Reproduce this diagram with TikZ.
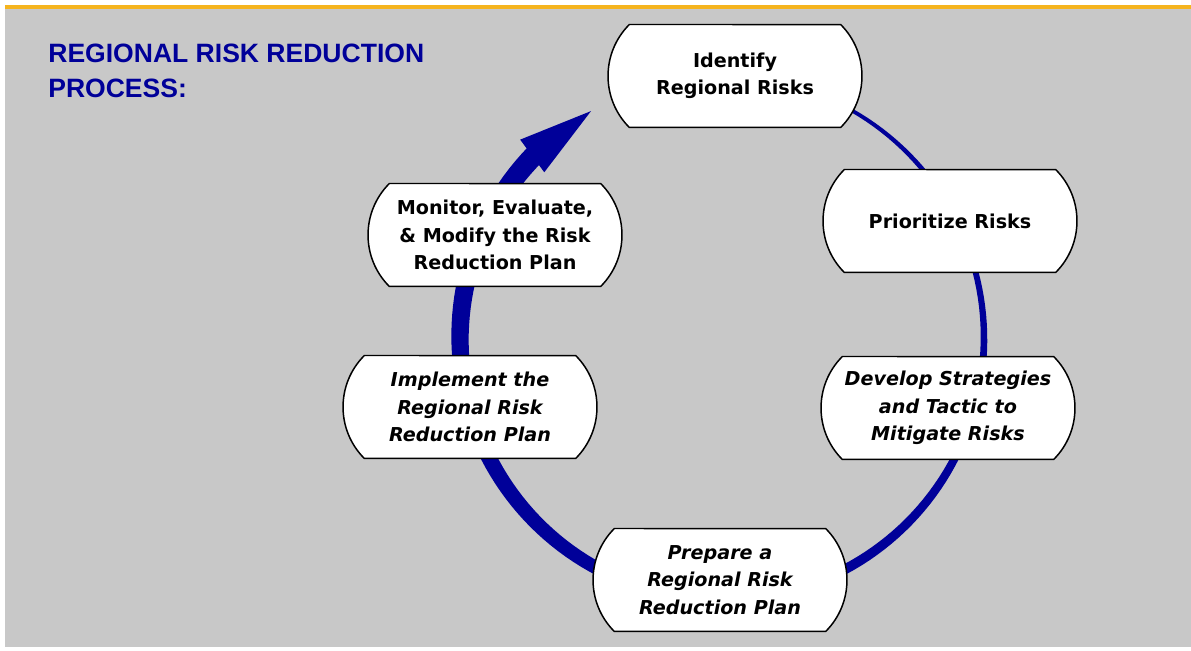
\documentclass[tikz,border=0pt]{standalone}
\usepackage{fontspec}
\setmainfont{DejaVu Sans}
\newfontfamily\titlefont{Liberation Sans}
\usepackage{tikz}
\usetikzlibrary{shapes.misc}
\definecolor{navy}{RGB}{0,0,153}
\definecolor{panel}{RGB}{200,200,200}
\definecolor{amber}{RGB}{245,180,30}

\begin{document}
\begin{tikzpicture}[x=0.02cm,y=-0.02cm,
    declare function={bw(\a)=2.5+18*(0.7*((90-\a)/314)+0.3*((90-\a)/314)^2);},
    stepbox/.style={draw=black,line width=0.85pt,fill=white,rounded rectangle,
      rounded rectangle arc length=90,minimum width=5.08cm,minimum height=2.06cm,
      inner sep=0pt,align=center,font=\fontsize{10.9}{15.6}\selectfont\bfseries},
    slanted/.style={font=\fontsize{10.9}{15.6}\selectfont\bfseries\itshape},
    headline/.style={anchor=base west,inner sep=0pt,text=navy,
      font=\titlefont\fontsize{15.1}{19.8}\selectfont\bfseries}]

%the sheet
    \useasboundingbox (0,0) rectangle (1191,651);
    \fill[panel] (5,5) rectangle (1191,647);
    \fill[amber] (5,5) rectangle (1191,9);
%the title
    \node[headline] (title1) at (48,63) {REGIONAL RISK REDUCTION};
    \node[headline] (title2) at (48,98) {PROCESS:};

%the ring, thin at the start and thick at the end
    \def\cx{722}
    \def\cy{338}
    \def\r{262}
    \fill[navy] plot[domain=90:-224.5,samples=160,variable=\a]
        ({\cx+(\r+bw(\a)/2)*cos(\a)},{\cy-(\r+bw(\a)/2)*sin(\a)})
      -- plot[domain=-224.5:90,samples=160,variable=\a]
        ({\cx+(\r-bw(\a)/2)*cos(\a)},{\cy-(\r-bw(\a)/2)*sin(\a)}) -- cycle;
%the head
    \coordinate (tip) at ({\cx+\r*cos(120)},{\cy-\r*sin(120)});
    \coordinate (barbout) at ({\cx+(\r+21)*cos(135.5)},{\cy-(\r+21)*sin(135.5)});
    \coordinate (barbin) at ({\cx+(\r-19)*cos(137)},{\cy-(\r-19)*sin(137)});
    \fill[navy] (barbout) -- (tip) -- (barbin) -- cycle;

%the steps
    \node[stepbox] (identify) at (735,76) {Identify\\Regional Risks};
    \node[stepbox] (prioritize) at (950,221) {Prioritize Risks};
    \node[stepbox,slanted] (develop) at (948,408) {Develop Strategies\\and Tactic to\\Mitigate Risks};
    \node[stepbox,slanted] (prepare) at (720,580) {Prepare a\\Regional Risk\\Reduction Plan};
    \node[stepbox,slanted] (implement) at (470,407) {Implement the\\Regional Risk\\Reduction Plan};
    \node[stepbox] (monitor) at (495,235) {Monitor, Evaluate,\\\& Modify the Risk\\Reduction Plan};
\end{tikzpicture}
\end{document}
